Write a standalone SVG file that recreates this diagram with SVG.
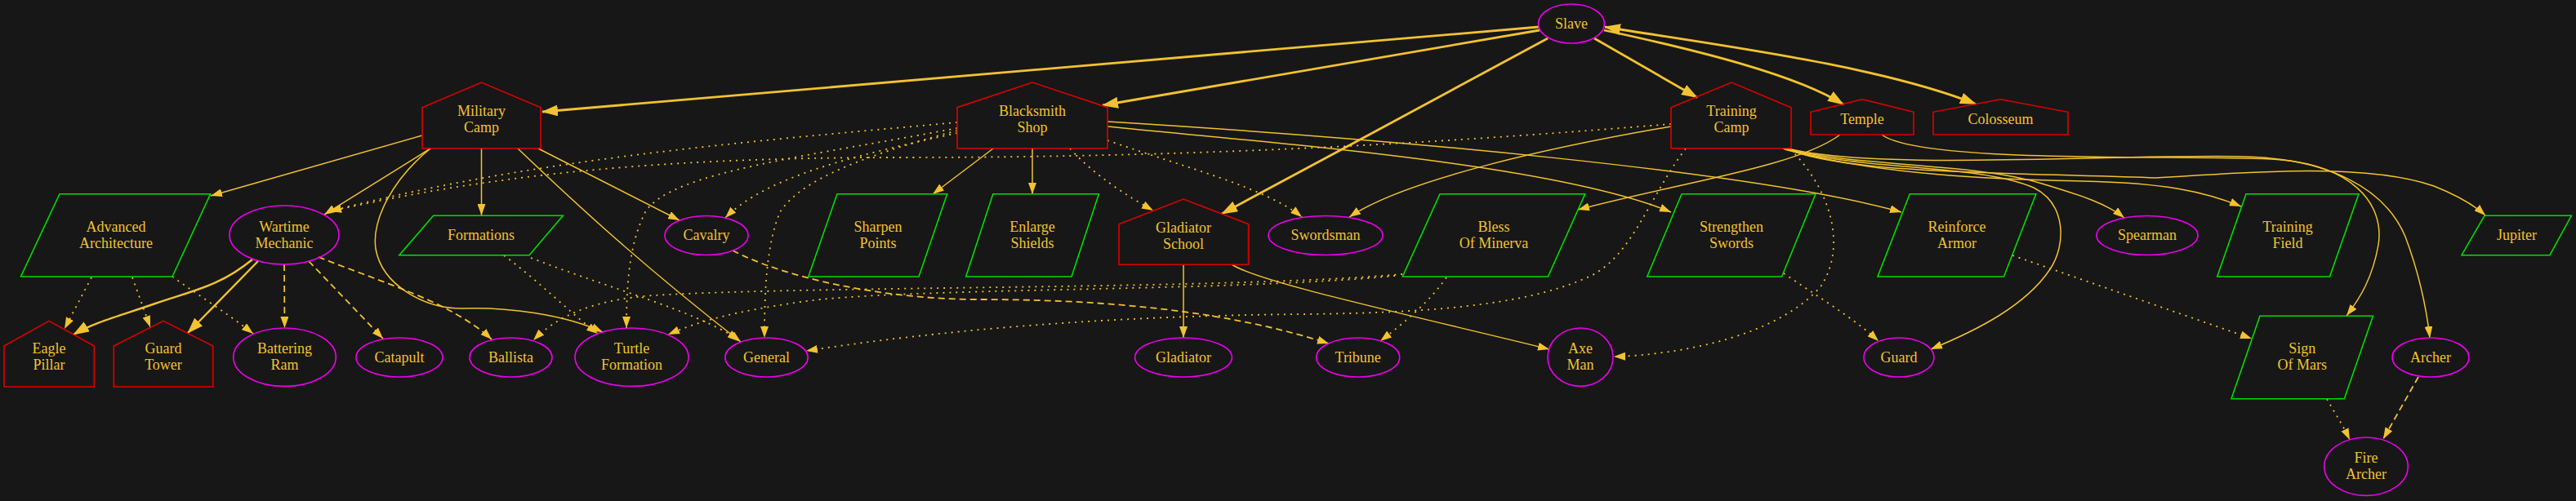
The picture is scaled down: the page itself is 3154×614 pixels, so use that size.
<svg xmlns="http://www.w3.org/2000/svg" width="3154" height="614" viewBox="0 0 3154 614">
<defs>
<marker id="a" markerUnits="userSpaceOnUse" markerWidth="14" markerHeight="10" refX="14" refY="5" orient="auto"><path d="M0,0 L14,5 L0,10 z" fill="#f2c231"/></marker>
<marker id="t" markerUnits="userSpaceOnUse" markerWidth="20" markerHeight="14" refX="19" refY="7" orient="auto-start-reverse"><path d="M0,0 L20,7 L0,14 z" fill="#f2c231"/></marker>
</defs>
<style>
text{font-family:"Liberation Serif","Times New Roman",serif;font-size:18px;fill:#f2c231;text-anchor:middle}
.h{fill:none;stroke:#e00000;stroke-width:1.6}
.p{fill:none;stroke:#00dd00;stroke-width:1.6}
.e{fill:none;stroke:#ee00ee;stroke-width:1.6}
#edges path{fill:none;stroke:#f2c231}
#edges .s{stroke-width:1.5;marker-end:url(#a)}
#edges .k{stroke-width:2.8;marker-end:url(#t)}
#edges .m{stroke-width:2.4;marker-end:url(#t)}
#edges .d{stroke-width:1.8;stroke-dasharray:2,6;marker-end:url(#a)}
#edges .w{stroke-width:1.8;stroke-dasharray:8,5;marker-end:url(#a)}
</style>
<rect width="3154" height="614" fill="#171717"/>
<g id="edges">
<path class="k" d="M1884,33 L664,137"/>
<path class="k" d="M1885,37 L1350,129"/>
<path class="k" d="M1895,47 C1780,110 1620,195 1496,262"/>
<path class="k" d="M1952,47 L2078,119.5"/>
<path class="k" d="M1964,37 C2080,62 2200,92 2257,128"/>
<path class="k" style="marker-start:url(#t)" d="M1965,33 C2100,55 2300,80 2419,127.5"/>
<path class="s" d="M517,166 L258,240"/>
<path class="s" d="M527,182 L397,263"/>
<path class="s" d="M589.5,182 L589.5,264"/>
<path class="s" d="M659,182 L832,270"/>
<path class="s" d="M527,182 C480,220 455,270 460,305 C468,350 520,378 565,378 C620,376 690,385 738,407"/>
<path class="s" d="M634,182 C700,245 780,320 907,419"/>
<path class="m" d="M309,318 C270,350 240,355 190,372 C150,386 115,395 90,410"/>
<path class="m" d="M316,320 L230,408"/>
<path class="w" d="M348,324 L348.5,402"/>
<path class="w" d="M378,320 L469,415"/>
<path class="w" d="M390,315 C440,335 500,355 540,375 C565,388 585,400 602,416"/>
<path class="d" d="M112,340 L79,403"/>
<path class="d" d="M162,340 L184,401"/>
<path class="d" d="M211,339 C240,360 280,385 310,409"/>
<path class="d" d="M617,313 C660,345 700,385 732,409"/>
<path class="d" d="M650,316 C750,355 850,380 905,417"/>
<path class="w" d="M897,307 C960,340 1080,367 1200,367 C1350,367 1500,380 1627,421"/>
<path class="s" d="M1216,182 L1142,238"/>
<path class="s" d="M1264,182 L1264,238"/>
<path class="d" d="M1310,182 C1340,215 1380,240 1412,258"/>
<path class="d" d="M1356,172 C1450,205 1550,230 1594,266"/>
<path class="s" d="M1356,155 C1550,175 1900,200 2046,260"/>
<path class="s" d="M1356,149 C1700,170 2150,210 2328,260"/>
<path class="d" d="M1172,150 C900,175 650,195 404,259"/>
<path class="d" d="M2046,152 C1800,172 1500,193 1100,193 C800,193 600,215 404,259"/>
<path class="d" d="M1172,163 C1050,190 940,215 888,267"/>
<path class="d" d="M1172,157 C1000,190 820,210 790,260 C770,300 767,350 767,402"/>
<path class="d" d="M1172,160 C1060,190 980,220 955,260 C938,300 936,360 936,414"/>
<path class="s" d="M2046,155 C1900,180 1720,220 1652,266"/>
<path class="d" d="M2064,182 C2020,240 2000,310 1950,337 C1880,370 1780,383 1600,385 C1350,387 1150,405 987,430"/>
<path class="d" d="M2192,183 C2240,230 2262,300 2230,350 C2180,410 2060,435 1976,437"/>
<path class="d" d="M2184,335 C2220,360 2270,390 2300,418"/>
<path class="d" d="M1771,340 C1750,370 1720,395 1690,418"/>
<path class="d" d="M1717,336 C1500,355 1000,350 800,362 C720,368 680,390 653,417"/>
<path class="d" d="M1708,338 C1500,358 1100,352 980,370 C900,382 860,392 818,410"/>
<path class="s" d="M1449,324 L1449,414"/>
<path class="s" d="M1508,324 C1540,345 1700,380 1897,428"/>
<path class="d" d="M2464,313 L2757,415"/>
<path class="d" d="M2849,489 C2858,505 2868,520 2877,539"/>
<path class="w" d="M2961,462 L2918,538"/>
<path class="s" d="M2253,165 C2200,205 2050,225 1932,257"/>
<path class="s" d="M2183,182 C2280,205 2420,200 2500,225 C2550,240 2580,250 2601,267"/>
<path class="s" d="M2185,183 C2300,215 2450,220 2550,222 C2650,224 2700,235 2744,253"/>
<path class="s" d="M2187,182 C2260,215 2500,212 2640,218 C2760,210 2900,200 2980,228 C3010,240 3030,252 3043,264"/>
<path class="s" d="M2304,165 C2350,200 2650,190 2780,195 C2880,200 2920,250 2912,300 C2905,340 2890,365 2873,387"/>
<path class="s" d="M2189,182 C2300,210 2600,188 2750,192 C2850,195 2920,230 2945,290 C2960,330 2970,370 2975,414"/>
<path class="s" d="M2183,182 C2280,210 2420,200 2490,230 C2530,250 2530,300 2510,330 C2480,375 2420,405 2364,428"/>
</g>
<g id="slave"><ellipse class="e" cx="1924" cy="29" rx="40.5" ry="24"/><text x="1924" y="34.5">Slave</text></g>
<g id="military_camp"><polygon class="h" points="517,181.7 517,131.7 589.5,101 662,131.7 662,181.7"/><text x="589.5" y="141.5">Military</text><text x="589.5" y="161.5">Camp</text></g>
<g id="blacksmith_shop"><polygon class="h" points="1172,181.7 1172,131.7 1264,101 1356,131.7 1356,181.7"/><text x="1264" y="141.5">Blacksmith</text><text x="1264" y="161.5">Shop</text></g>
<g id="training_camp"><polygon class="h" points="2046,181.7 2046,131.7 2120,101 2193,131.7 2193,181.7"/><text x="2120" y="141.5">Training</text><text x="2120" y="161.5">Camp</text></g>
<g id="temple"><polygon class="h" points="2217,165 2217,137.3 2280,121.7 2343,137.3 2343,165"/><text x="2280" y="151.5">Temple</text></g>
<g id="colosseum"><polygon class="h" points="2367,165 2367,137.3 2449.5,121.7 2532,137.3 2532,165"/><text x="2449.5" y="151.5">Colosseum</text></g>
<g id="advanced_architecture"><polygon class="p" points="73,237.7 257.7,237.7 211,339 25.5,339"/><text x="142" y="283.5">Advanced</text><text x="142" y="303.5">Architecture</text></g>
<g id="wartime_mechanic"><ellipse class="e" cx="348" cy="288" rx="67" ry="36"/><text x="348" y="283.5">Wartime</text><text x="348" y="303.5">Mechanic</text></g>
<g id="formations"><polygon class="p" points="530.6,264.3 689.3,264.3 648,312.7 488.8,312.7"/><text x="589" y="294">Formations</text></g>
<g id="cavalry"><ellipse class="e" cx="865" cy="288.5" rx="51" ry="24"/><text x="865" y="294">Cavalry</text></g>
<g id="sharpen_points"><polygon class="p" points="1025,237.7 1159.7,237.7 1125,339 989.8,339"/><text x="1075" y="283.5">Sharpen</text><text x="1075" y="303.5">Points</text></g>
<g id="enlarge_shields"><polygon class="p" points="1215.8,237.7 1345.4,237.7 1312,339 1182.7,339"/><text x="1264" y="283.5">Enlarge</text><text x="1264" y="303.5">Shields</text></g>
<g id="gladiator_school"><polygon class="h" points="1370,324.3 1370,274.7 1449,244 1528.6,274.7 1528.6,324.3"/><text x="1449" y="284.5">Gladiator</text><text x="1449" y="304.5">School</text></g>
<g id="swordsman"><ellipse class="e" cx="1623" cy="288.5" rx="70" ry="24"/><text x="1623" y="294">Swordsman</text></g>
<g id="bless_of_minerva"><polygon class="p" points="1763,237.7 1940.8,237.7 1895.4,339 1717.3,339"/><text x="1829" y="283.5">Bless</text><text x="1829" y="303.5">Of Minerva</text></g>
<g id="strengthen_swords"><polygon class="p" points="2059,237.7 2223,237.7 2181.6,339 2016.8,339"/><text x="2120" y="283.5">Strengthen</text><text x="2120" y="303.5">Swords</text></g>
<g id="reinforce_armor"><polygon class="p" points="2338.3,237.7 2492.8,237.7 2453.5,339 2299,339"/><text x="2396" y="283.5">Reinforce</text><text x="2396" y="303.5">Armor</text></g>
<g id="spearman"><ellipse class="e" cx="2629" cy="288.5" rx="62" ry="24"/><text x="2629" y="294">Spearman</text></g>
<g id="training_field"><polygon class="p" points="2750,237.7 2888,237.7 2852.5,339 2714.7,339"/><text x="2801" y="283.5">Training</text><text x="2801" y="303.5">Field</text></g>
<g id="jupiter"><polygon class="p" points="3042,264.3 3148.4,264.3 3121.9,312.7 3014,312.7"/><text x="3081.5" y="294">Jupiter</text></g>
<g id="eagle_pillar"><polygon class="h" points="5,474 5,424 60,393.3 115.3,424 115.3,474"/><text x="60" y="433">Eagle</text><text x="60" y="453">Pillar</text></g>
<g id="guard_tower"><polygon class="h" points="139.3,474 139.3,424 200,393.3 260.7,424 260.7,474"/><text x="200" y="433">Guard</text><text x="200" y="453">Tower</text></g>
<g id="battering_ram"><ellipse class="e" cx="348.5" cy="437.7" rx="62.8" ry="35.7"/><text x="348.5" y="433">Battering</text><text x="348.5" y="453">Ram</text></g>
<g id="catapult"><ellipse class="e" cx="489" cy="438" rx="53" ry="24"/><text x="489" y="443.5">Catapult</text></g>
<g id="ballista"><ellipse class="e" cx="625.5" cy="438" rx="50.5" ry="24"/><text x="625.5" y="443.5">Ballista</text></g>
<g id="turtle_formation"><ellipse class="e" cx="773.5" cy="437.7" rx="69.5" ry="35.7"/><text x="773.5" y="433">Turtle</text><text x="773.5" y="453">Formation</text></g>
<g id="general"><ellipse class="e" cx="938.5" cy="438" rx="50.7" ry="24"/><text x="938.5" y="443.5">General</text></g>
<g id="gladiator"><ellipse class="e" cx="1449" cy="438" rx="59.4" ry="24"/><text x="1449" y="443.5">Gladiator</text></g>
<g id="tribune"><ellipse class="e" cx="1662.7" cy="438" rx="51" ry="24"/><text x="1662.7" y="443.5">Tribune</text></g>
<g id="axe_man"><ellipse class="e" cx="1935" cy="437.7" rx="40" ry="35.7"/><text x="1935" y="433">Axe</text><text x="1935" y="453">Man</text></g>
<g id="guard"><ellipse class="e" cx="2325" cy="438" rx="43" ry="24"/><text x="2325" y="443.5">Guard</text></g>
<g id="sign_of_mars"><polygon class="p" points="2767,387.3 2905.5,387.3 2870.3,488.7 2732,488.7"/><text x="2818.7" y="433">Sign</text><text x="2818.7" y="453">Of Mars</text></g>
<g id="archer"><ellipse class="e" cx="2976" cy="438" rx="47" ry="24"/><text x="2976" y="443.5">Archer</text></g>
<g id="fire_archer"><ellipse class="e" cx="2897" cy="571.7" rx="51.3" ry="35.7"/><text x="2897" y="587" dy="-20">Fire</text><text x="2897" y="587">Archer</text></g>
</svg>
